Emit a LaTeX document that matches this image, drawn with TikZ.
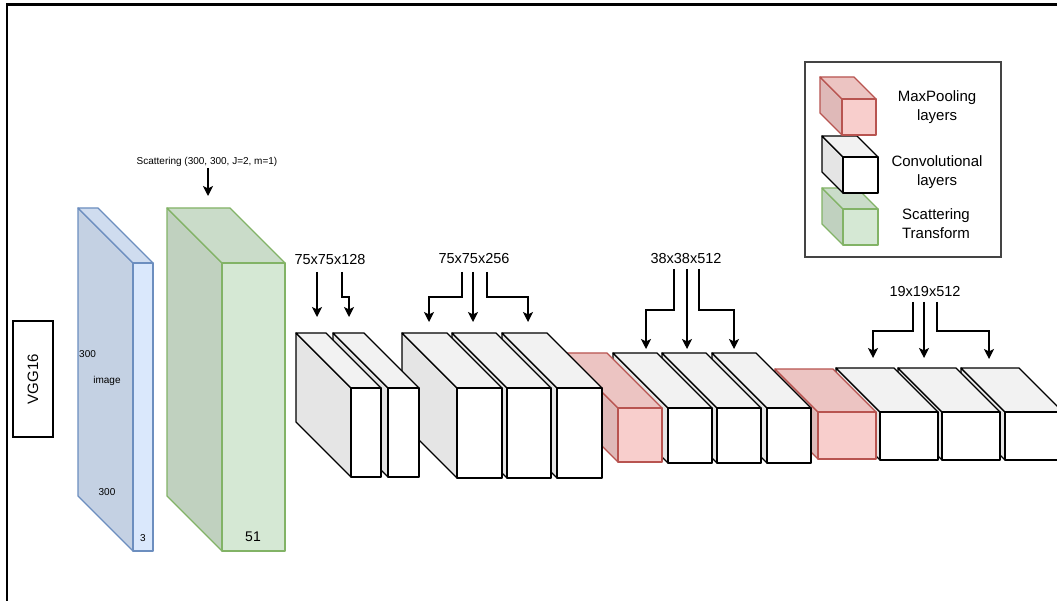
\documentclass[tikz,border=0pt]{standalone}
\usepackage{fontspec}
\setmainfont{Liberation Sans}
\usetikzlibrary{arrows.meta}

\definecolor{bluefill}{HTML}{DAE8FC}
\definecolor{bluestroke}{HTML}{6C8EBF}
\definecolor{greenfill}{HTML}{D5E8D4}
\definecolor{greenstroke}{HTML}{82B366}
\definecolor{redfill}{HTML}{F8CECC}
\definecolor{redstroke}{HTML}{B85450}
\definecolor{convfill}{HTML}{FFFFFF}
\definecolor{convstroke}{HTML}{000000}
\definecolor{legendstroke}{HTML}{444444}

\tikzset{
  cubeline/.style={line width=1.3pt, line join=round},
  arr/.style={line width=1.3pt, -{Stealth[length=10pt,width=10pt,inset=2.5pt]}},
  dimlabel/.style={font=\fontsize{14.5}{17}\selectfont, inner sep=1pt},
  smalltext/.style={font=\fontsize{10}{12}\selectfont, inner sep=1pt},
  legendtext/.style={font=\fontsize{15}{19}\selectfont, align=center, inner sep=1pt},
}

% #1 name, #2,#3 front face top-left, #4 width, #5 height, #6 depth, #7 fill, #8 stroke
\newcommand\layercube[8]{%
  \filldraw[cubeline, draw=#8, fill=#7!90!black]
    ({#2-#6},{#3-#6}) -- (#2,#3) -- (#2,{#3+#5}) -- ({#2-#6},{#3+#5-#6}) -- cycle;
  \filldraw[cubeline, draw=#8, fill=#7!95!black]
    ({#2-#6},{#3-#6}) -- ({#2+#4-#6},{#3-#6}) -- ({#2+#4},#3) -- (#2,#3) -- cycle;
  \node[cubeline, draw=#8, fill=#7, inner sep=0pt, outer sep=0pt,
        minimum width=#4pt, minimum height=#5pt, anchor=north west] (#1) at (#2,#3) {};
}

\begin{document}
\begin{tikzpicture}[x=1pt, y=-1pt]
\useasboundingbox (0,0) rectangle (1057,601);
\clip (0,0) rectangle (1057,601);
\fill[white] (0,0) rectangle (1057,601);

% page frame (top and left edges)
\draw[line width=2.2pt] (7,601) -- (7,4.5) -- (1057,4.5);

% network label
\node[draw, line width=1.3pt, rotate=90, minimum width=116pt, minimum height=40pt,
      inner sep=0pt, font=\fontsize{15}{18}\selectfont] (vgg) at (33,379) {VGG16};

% input image and scattering transform
\layercube{img}{133}{263}{20}{288}{55}{bluefill}{bluestroke}
\node[smalltext, anchor=west] (imgh) at (78,354) {300};
\node[smalltext] (imgname) at (107,381) {image};
\node[smalltext] (imgw) at (107,492) {300};
\node[smalltext] (imgc) at (143,538) {3};

\layercube{scat}{222}{263}{63}{288}{55}{greenfill}{greenstroke}
\node[font=\fontsize{14}{16}\selectfont] (scatc) at (253,537) {51};
\node[smalltext] (scatlbl) at (207,162) {Scattering (300, 300, J=2, m=1)};
\coordinate (scattip) at (208,196);
\draw[arr] (scatlbl.south -| scattip) -- (scattip);

% 19x19x512 block (drawn right to left so nearer cubes overlap)
\layercube{c13}{1005}{412}{58}{48}{44}{convfill}{convstroke}
\layercube{c12}{942}{412}{58}{48}{44}{convfill}{convstroke}
\layercube{c11}{880}{412}{58}{48}{44}{convfill}{convstroke}
\layercube{p4}{818}{412}{58}{47}{43}{redfill}{redstroke}

% 38x38x512 block
\layercube{c10}{767}{408}{44}{55}{55}{convfill}{convstroke}
\layercube{c9}{717}{408}{44}{55}{55}{convfill}{convstroke}
\layercube{c8}{668}{408}{44}{55}{55}{convfill}{convstroke}
\layercube{p3}{618}{408}{44}{54}{55}{redfill}{redstroke}

% 75x75x256 block
\layercube{c7}{557}{388}{45}{90}{55}{convfill}{convstroke}
\layercube{c6}{507}{388}{44}{90}{55}{convfill}{convstroke}
\layercube{c5}{457}{388}{45}{90}{55}{convfill}{convstroke}

% 75x75x128 block
\layercube{c4}{388}{388}{31}{89}{55}{convfill}{convstroke}
\layercube{c3}{351}{388}{30}{89}{55}{convfill}{convstroke}

% size labels and their arrows
\node[dimlabel] (l128) at (330,260) {75x75x128};
\coordinate (s1) at (317,272); \coordinate (t1) at (317,317);
\coordinate (s2) at (342,272); \coordinate (t2) at (349,317);
\draw[arr] (s1) -- (t1);
\draw[arr] (s2) -- ++(0,25) -| (t2);

\node[dimlabel] (l256) at (474,259) {75x75x256};
\coordinate (s3) at (462,272); \coordinate (t3) at (429,322);
\coordinate (s4) at (473,272); \coordinate (t4) at (473,322);
\coordinate (s5) at (487,272); \coordinate (t5) at (528,322);
\draw[arr] (s3) -- ++(0,25) -| (t3);
\draw[arr] (s4) -- (t4);
\draw[arr] (s5) -- ++(0,25) -| (t5);

\node[dimlabel] (l38) at (686,259) {38x38x512};
\coordinate (s6) at (674,269); \coordinate (t6) at (646,349);
\coordinate (s7) at (687,269); \coordinate (t7) at (687,349);
\coordinate (s8) at (699,269); \coordinate (t8) at (734,349);
\draw[arr] (s6) -- ++(0,41) -| (t6);
\draw[arr] (s7) -- (t7);
\draw[arr] (s8) -- ++(0,41) -| (t8);

\node[dimlabel] (l19) at (925,292) {19x19x512};
\coordinate (s9) at (913,302); \coordinate (t9) at (873,358);
\coordinate (s10) at (924,302); \coordinate (t10) at (924,358);
\coordinate (s11) at (937,302); \coordinate (t11) at (989,359);
\draw[arr] (s9) -- ++(0,29) -| (t9);
\draw[arr] (s10) -- (t10);
\draw[arr] (s11) -- ++(0,29) -| (t11);

% legend
\node[draw=legendstroke, line width=1.5pt, fill=white, minimum width=196pt,
      minimum height=195pt, inner sep=0pt] (legend) at (903,159.5) {};
\layercube{kgreen}{843}{209}{35}{36}{21}{greenfill}{greenstroke}
\layercube{kconv}{843}{157}{35}{36}{21}{convfill}{convstroke}
\layercube{kred}{842}{99}{34}{36}{22}{redfill}{redstroke}
\node[legendtext] (kredt) at (937,107) {MaxPooling\\layers};
\node[legendtext] (kconvt) at (937,172) {Convolutional\\layers};
\node[legendtext] (kgreent) at (936,224) {Scattering\\Transform};
\end{tikzpicture}
\end{document}
